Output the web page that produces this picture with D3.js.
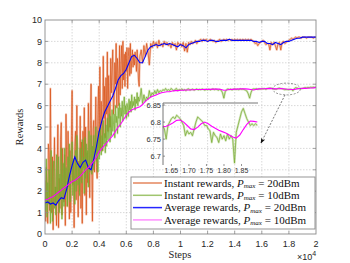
<!DOCTYPE html>
<html>
<head>
<meta charset="utf-8">
<script src="https://cdn.jsdelivr.net/npm/d3@7"></script>
<style>
  html, body { margin: 0; padding: 0; background: #fff; }
  svg { display: block; }
</style>
</head>
<body>
<svg id="chart" width="350" height="263"></svg>
<script>
// instant rewards: every 50 steps up to step 6950, then every 100 steps
const earlyStep = 50;
const lateStart = 7000;
const lateStep = 100;
// average rewards: every 200 steps
const averageStep = 200;

const instant20Early = [
  2.5, 0.6, 3.1, 1.8, 0.5, 4.2, 3.8, 1.1, 6.8, 2.4,
  1.0, 3.6, 0.2, 2.7, 4.5, 1.5, 2.2, 0.4, 3.0, 5.1,
  0.3, 2.6, 1.2, 4.4, 5.2, 0.9, 4.0, 2.1, 1.5, 3.7,
  0.4, 5.6, 3.2, 1.3, 4.8, 2.8, 0.7, 3.9, 1.0, 4.6,
  6.7, 2.3, 3.5, 0.3, 4.1, 4.8, 1.6, 6.0, 2.5, 0.8,
  3.4, 2.0, 5.5, 1.2, 4.3, 0.5, 4.8, 3.1, 5.9, 1.8,
  5.0, 0.9, 3.8, 2.4, 6.1, 4.2, 1.7, 5.3, 7.0, 3.3,
  0.6, 4.9, 5.3, 2.9, 4.4, 6.4, 3.1, 2.6, 5.6, 6.9,
  3.8, 7.8, 4.0, 6.2, 5.1, 3.9, 8.3, 5.4, 6.9, 4.5,
  7.3, 5.6, 8.5, 4.8, 7.4, 6.0, 5.0, 8.2, 6.6, 7.7,
  8.6, 5.6, 6.2, 8.0, 7.0, 8.9, 5.9, 8.2, 7.5, 6.0,
  8.8, 6.5, 7.9, 8.8, 6.8, 9.0, 7.2, 8.4, 6.9, 8.5,
  7.6, 8.7, 6.8, 8.3, 8.7, 7.4, 8.9, 7.5, 8.1, 8.6,
  7.8, 8.4, 7.9, 8.5, 8.2, 7.6, 8.6, 8.0, 7.2, 6.9
];

const instant20Late = [
  8.3, 8.6, 8.0, 8.8, 8.3, 8.9, 8.5, 7.9, 8.9, 8.7, 9.0,
  8.8, 8.95, 8.7, 9.05, 8.8, 8.9, 8.75, 9.0, 8.85, 8.95,
  8.8, 8.9, 8.7, 8.95, 8.8, 8.9, 8.6, 8.95, 8.85, 8.9,
  8.75, 8.95, 8.55, 8.9, 8.5, 8.95, 8.85, 9.0, 8.9, 8.95,
  9.05, 8.9, 9.0, 9.05, 9.1, 9.0, 9.1, 9.05, 9.1, 9.0,
  9.05, 9.1, 9.05, 9.0, 9.05, 8.95, 9.0, 9.05, 9.1, 9.0,
  9.05, 9.1, 9.05, 9.1, 9.05, 9.1, 9.05, 9.1, 9.05, 9.1,
  9.05, 9.1, 9.05, 9.1, 9.05, 9.1, 9.05, 9.1, 9.05, 9.1,
  9.05, 9.1, 9.05, 9.0, 8.9, 8.95, 8.8, 8.9, 8.95, 9.0,
  9.05, 8.95, 8.85, 8.9, 8.9, 8.6, 8.95, 8.85, 8.95, 8.8,
  8.6, 8.9, 8.95, 8.6, 8.95, 9.0, 8.9, 8.95, 9.0, 9.05,
  9.1, 9.15, 9.1, 9.15, 9.2, 9.15, 9.2, 9.2, 9.15, 9.2,
  9.2, 9.2, 9.15, 9.2, 9.2, 9.2, 9.2, 9.15, 9.2, 9.2
];

const instant10Early = [
  2.0, 1.1, 3.5, 0.8, 2.4, 1.4, 3.0, 2.6, 0.5, 3.9,
  1.7, 0.6, 2.9, 3.4, 1.2, 2.2, 0.9, 3.7, 1.5, 2.8,
  3.6, 1.0, 2.8, 1.6, 4.0, 0.7, 2.4, 3.3, 1.3, 4.0,
  1.9, 3.1, 2.5, 1.3, 3.6, 2.2, 4.2, 1.5, 2.7, 3.4,
  4.3, 1.8, 3.5, 2.4, 1.4, 3.9, 2.0, 4.6, 4.1, 2.3,
  3.3, 1.8, 4.0, 2.6, 2.4, 4.4, 3.0, 3.6, 1.9, 4.5,
  2.6, 4.2, 3.2, 3.9, 2.2, 4.8, 2.9, 3.5, 4.6, 2.8,
  4.1, 3.0, 4.6, 3.3, 3.8, 5.0, 3.4, 4.3, 2.9, 4.8,
  3.5, 4.5, 5.0, 3.7, 4.6, 3.9, 5.3, 4.2, 4.7, 3.8,
  5.1, 4.1, 5.4, 4.4, 4.9, 5.6, 4.3, 5.5, 4.6, 5.8,
  4.8, 5.1, 5.6, 4.5, 6.0, 5.2, 5.5, 4.7, 5.9, 5.4,
  6.1, 5.0, 5.9, 5.5, 6.2, 5.3, 5.8, 6.4, 5.6, 6.0,
  5.4, 6.1, 5.9, 5.5, 6.3, 5.8, 6.2, 5.7, 6.5, 5.9,
  6.2, 6.0, 6.4, 5.8, 6.3, 6.1, 6.6, 6.0, 6.4, 6.2
];

const instant10Late = [
  6.3, 6.8, 6.1, 6.5, 6.2, 6.4, 6.3, 6.7, 6.4, 6.6, 6.5,
  6.7, 6.55, 6.75, 6.6, 6.7, 6.65, 6.75, 6.7, 6.8, 6.7,
  6.75, 6.7, 6.8, 6.75, 6.7, 6.75, 6.8, 6.7, 6.75, 6.72,
  6.78, 6.72, 6.75, 6.7, 6.76, 6.78, 6.72, 6.75, 6.77, 6.72,
  6.75, 6.78, 6.73, 6.76, 6.74, 6.78, 6.75, 6.72, 6.76, 6.74,
  6.77, 6.73, 6.76, 6.78, 6.74, 6.77, 6.75, 6.72, 6.76, 6.72,
  6.6, 6.35, 6.65, 6.74, 6.78, 6.75, 6.77, 6.73, 6.76, 6.78,
  6.75, 6.77, 6.74, 6.78, 6.76, 6.77, 6.75, 6.72, 6.68, 6.55,
  6.35, 6.6, 6.76, 6.78, 6.77, 6.79, 6.76, 6.78, 6.77, 6.79,
  6.78, 6.79, 6.76, 6.8, 6.81, 6.815, 6.81, 6.8, 6.77, 6.765,
  6.77, 6.805, 6.815, 6.8, 6.79, 6.765, 6.74, 6.76, 6.75, 6.745,
  6.76, 6.755, 6.69, 6.79, 6.84, 6.82, 6.8, 6.795, 6.79, 6.8,
  6.82, 6.84, 6.83, 6.85, 6.84, 6.86, 6.85, 6.86, 6.85, 6.86
];

const average20 = [
  1.45, 1.5, 1.4, 1.45, 1.35, 1.55, 1.7, 1.65, 2.1, 2.7,
  3.2, 3.6, 3.3, 3.1, 3.35, 3.45, 3.1, 3.0, 3.5, 4.1,
  4.8, 5.3, 5.7, 5.95, 6.2, 6.45, 6.8, 7.2, 7.4, 7.5,
  7.7, 8.0, 8.3, 8.35, 8.2, 8.0, 8.0, 8.3, 8.6, 8.75,
  8.8, 8.85, 8.8, 8.85, 8.9, 8.85, 8.9, 8.85, 8.8, 8.75,
  8.85, 8.8, 8.7, 8.85, 8.9, 8.95, 9.0, 9.0, 9.05, 9.05,
  9.0, 9.05, 9.05, 9.0, 9.0, 9.05, 9.05, 9.05, 9.1, 9.05,
  9.05, 9.05, 9.05, 9.05, 9.05, 9.05, 9.05, 9.0, 9.0, 8.95,
  9.0, 9.0, 8.9, 8.9, 8.85, 8.95, 8.9, 8.85, 8.95, 9.0,
  9.0, 9.05, 9.1, 9.15, 9.15, 9.2, 9.2, 9.2, 9.2, 9.2,
  9.2
];

const average10 = [
  1.6, 1.62, 1.7, 1.75, 1.85, 1.95, 2.05, 2.15, 2.25, 2.35,
  2.45, 2.5, 2.6, 2.7, 2.85, 3.0, 3.1, 3.25, 3.4, 3.6,
  3.85, 4.0, 4.15, 4.3, 4.45, 4.6, 4.8, 5.0, 5.15, 5.35,
  5.55, 5.7, 5.8, 5.85, 5.9, 5.95, 6.05, 6.2, 6.3, 6.4,
  6.45, 6.5, 6.55, 6.6, 6.62, 6.65, 6.65, 6.68, 6.7, 6.7,
  6.72, 6.72, 6.73, 6.73, 6.74, 6.74, 6.75, 6.75, 6.75, 6.76,
  6.76, 6.76, 6.77, 6.77, 6.77, 6.75, 6.72, 6.73, 6.75, 6.76,
  6.77, 6.77, 6.78, 6.78, 6.78, 6.77, 6.75, 6.73, 6.76, 6.78,
  6.79, 6.785, 6.795, 6.805, 6.795, 6.78, 6.79, 6.8, 6.79, 6.775,
  6.765, 6.755, 6.75, 6.78, 6.8, 6.81, 6.805, 6.81, 6.82, 6.83,
  6.85
];

// zoomed window for the inset (steps 16250 .. 18950)
const insetStart = 16250;
const insetInstantStep = 50;
const insetAverageStep = 100;

const insetInstant10 = [
  6.79, 6.78, 6.75, 6.79, 6.8, 6.81, 6.815, 6.81, 6.82, 6.815,
  6.81, 6.8, 6.79, 6.76, 6.775, 6.765, 6.77, 6.76, 6.78, 6.8,
  6.815, 6.81, 6.805, 6.8, 6.79, 6.79, 6.78, 6.775, 6.74, 6.77,
  6.76, 6.755, 6.74, 6.765, 6.75, 6.76, 6.745, 6.765, 6.75, 6.76,
  6.75, 6.68, 6.77, 6.79, 6.81, 6.83, 6.84, 6.825, 6.81, 6.8,
  6.79, 6.795, 6.79, 6.795, 6.79
];

const insetAverage10 = [
  6.786, 6.788, 6.792, 6.798, 6.805, 6.806, 6.8, 6.79, 6.78, 6.778,
  6.785, 6.795, 6.8, 6.795, 6.788, 6.782, 6.776, 6.772, 6.768, 6.762,
  6.756, 6.753, 6.762, 6.778, 6.793, 6.803, 6.802, 6.8
];

const xTicks = [0, 0.2, 0.4, 0.6, 0.8, 1, 1.2, 1.4, 1.6, 1.8, 2];
const yTicks = [0, 1, 2, 3, 4, 5, 6, 7, 8, 9, 10];
const insetXTicks = [1.65, 1.70, 1.75, 1.80, 1.85];
const insetYTicks = [6.7, 6.75, 6.8, 6.85];

const legendLabels = ['Instant rewards, ', 'Instant rewards, ', 'Average rewards, ', 'Average rewards, '];
const legendPower = ['20dBm', '10dBm', '20dBm', '10dBm'];

const colors = {
  inst20: '#D95319',
  inst10: '#77AC30',
  avg20: '#0000FF',
  avg10: '#FF00FF'
};

const svg = d3.select('#chart');
const plotLeft = 45, plotRight = 316, plotTop = 20, plotBottom = 234;

const x = d3.scaleLinear().domain([0, 20000]).range([plotLeft, plotRight]);
const y = d3.scaleLinear().domain([0, 10]).range([plotBottom, plotTop]);

const sansFont = '"Liberation Sans", Arial, sans-serif';
const serifFont = '"Liberation Serif", "Times New Roman", serif';

// [step, value] pairs for a regularly sampled series
function toPoints(values, step, start) {
  start = start || 0;
  return values.map((v, i) => [start + i * step, v]);
}

const instant20Points = toPoints(instant20Early, earlyStep).concat(toPoints(instant20Late, lateStep, lateStart));
const instant10Points = toPoints(instant10Early, earlyStep).concat(toPoints(instant10Late, lateStep, lateStart));

const defs = svg.append('defs');
defs.append('clipPath').attr('id', 'plotClip')
  .append('rect')
  .attr('x', plotLeft).attr('y', plotTop)
  .attr('width', plotRight - plotLeft).attr('height', plotBottom - plotTop);

// grid
const grid = svg.append('g').attr('class', 'grid')
  .attr('stroke', '#c8c8c8').attr('stroke-width', 0.7).attr('stroke-dasharray', '1.5,1.5');
grid.selectAll('line.v').data(xTicks.slice(1, -1)).join('line').attr('class', 'v')
  .attr('x1', d => x(d * 1e4)).attr('x2', d => x(d * 1e4))
  .attr('y1', plotTop).attr('y2', plotBottom);
grid.selectAll('line.h').data(yTicks.slice(1, -1)).join('line').attr('class', 'h')
  .attr('x1', plotLeft).attr('x2', plotRight)
  .attr('y1', d => y(d)).attr('y2', d => y(d));

function pointLine(xs, ys) {
  return d3.line().x(d => xs(d[0])).y(d => ys(d[1]));
}

const plot = svg.append('g').attr('clip-path', 'url(#plotClip)').attr('fill', 'none');

function drawInstant(g, points, color, lineGen) {
  g.append('path').datum(points).attr('d', lineGen)
    .attr('stroke', color).attr('stroke-width', 2.2).attr('stroke-opacity', 0.3)
    .attr('stroke-linejoin', 'round');
  g.append('path').datum(points).attr('d', lineGen)
    .attr('stroke', color).attr('stroke-width', 0.8).attr('stroke-opacity', 0.9)
    .attr('stroke-linejoin', 'round');
}

const mainLine = pointLine(x, y);
drawInstant(plot, instant20Points, colors.inst20, mainLine);
drawInstant(plot, instant10Points, colors.inst10, mainLine);

plot.append('path').datum(toPoints(average20, averageStep)).attr('d', mainLine)
  .attr('stroke', colors.avg20).attr('stroke-width', 1.1);
plot.append('path').datum(toPoints(average10, averageStep)).attr('d', mainLine)
  .attr('stroke', colors.avg10).attr('stroke-width', 1.1);

// axes box with inward ticks
const axes = svg.append('g').attr('class', 'axes');
axes.append('rect')
  .attr('x', plotLeft).attr('y', plotTop)
  .attr('width', plotRight - plotLeft).attr('height', plotBottom - plotTop)
  .attr('fill', 'none').attr('stroke', '#8a8a8a').attr('stroke-width', 0.9);

const tickLen = 3;
axes.selectAll('line.xt').data(xTicks.slice(1, -1)).join('line').attr('class', 'xt')
  .attr('x1', d => x(d * 1e4)).attr('x2', d => x(d * 1e4))
  .attr('y1', plotBottom).attr('y2', plotBottom - tickLen)
  .attr('stroke', '#8a8a8a').attr('stroke-width', 0.8);
axes.selectAll('line.xt2').data(xTicks.slice(1, -1)).join('line').attr('class', 'xt2')
  .attr('x1', d => x(d * 1e4)).attr('x2', d => x(d * 1e4))
  .attr('y1', plotTop).attr('y2', plotTop + tickLen)
  .attr('stroke', '#8a8a8a').attr('stroke-width', 0.8);
axes.selectAll('line.yt').data(yTicks.slice(1, -1)).join('line').attr('class', 'yt')
  .attr('x1', plotLeft).attr('x2', plotLeft + tickLen)
  .attr('y1', d => y(d)).attr('y2', d => y(d))
  .attr('stroke', '#8a8a8a').attr('stroke-width', 0.8);
axes.selectAll('line.yt2').data(yTicks.slice(1, -1)).join('line').attr('class', 'yt2')
  .attr('x1', plotRight).attr('x2', plotRight - tickLen)
  .attr('y1', d => y(d)).attr('y2', d => y(d))
  .attr('stroke', '#8a8a8a').attr('stroke-width', 0.8);

axes.selectAll('text.xl').data(xTicks).join('text').attr('class', 'xl')
  .attr('x', d => x(d * 1e4)).attr('y', 247)
  .attr('text-anchor', 'middle')
  .style('font-family', sansFont).style('font-size', '9px').attr('fill', '#262626')
  .text(d => d3.format('~g')(d));

axes.selectAll('text.yl').data(yTicks).join('text').attr('class', 'yl')
  .attr('x', 42).attr('y', d => y(d)).attr('dy', '0.35em')
  .attr('text-anchor', 'end')
  .style('font-family', sansFont).style('font-size', '9px').attr('fill', '#262626')
  .text(d => d);

svg.append('text')
  .attr('x', 180).attr('y', 258)
  .attr('text-anchor', 'middle')
  .style('font-family', serifFont).style('font-size', '10.5px').attr('fill', '#262626')
  .text('Steps');

svg.append('text')
  .attr('transform', 'translate(23,127) rotate(-90)')
  .attr('text-anchor', 'middle')
  .style('font-family', serifFont).style('font-size', '10.5px').attr('fill', '#262626')
  .text('Rewards');

const expo = svg.append('text')
  .attr('x', 297).attr('y', 260)
  .style('font-family', sansFont).style('font-size', '9px').attr('fill', '#262626');
expo.append('tspan').text('\u00d710');
expo.append('tspan').attr('dy', -4).style('font-size', '7px').text('4');

// dashed ellipse and arrow pointing at the inset
const annot = svg.append('g').attr('fill', 'none');
const ex0 = x(16800), ex1 = x(18850), ey0 = y(7.05), ey1 = y(6.5);
annot.append('ellipse')
  .attr('cx', (ex0 + ex1) / 2).attr('cy', (ey0 + ey1) / 2)
  .attr('rx', (ex1 - ex0) / 2).attr('ry', (ey1 - ey0) / 2)
  .attr('stroke', '#777').attr('stroke-width', 0.8).attr('stroke-dasharray', '2,1.5');

defs.append('marker')
  .attr('id', 'arrowHead').attr('viewBox', '0 0 10 10')
  .attr('refX', 9).attr('refY', 5)
  .attr('markerWidth', 7).attr('markerHeight', 7)
  .attr('orient', 'auto-start-reverse')
  .append('path').attr('d', 'M0,1 L10,5 L0,9 L3,5 Z').attr('fill', '#111');

annot.append('line')
  .attr('x1', 285).attr('y1', ey1)
  .attr('x2', 261).attr('y2', 143)
  .attr('stroke', '#555').attr('stroke-width', 0.8).attr('stroke-dasharray', '2,1.5')
  .attr('marker-end', 'url(#arrowHead)');

// inset
const insetLeft = 163, insetRight = 258, insetTop = 103, insetBottom = 165;
const ix = d3.scaleLinear().domain([16260, 18970]).range([insetLeft, insetRight]);
const iy = d3.scaleLinear().domain([6.674, 6.856]).range([insetBottom, insetTop]);

defs.append('clipPath').attr('id', 'insetClip')
  .append('rect')
  .attr('x', insetLeft).attr('y', insetTop)
  .attr('width', insetRight - insetLeft).attr('height', insetBottom - insetTop);

const inset = svg.append('g').attr('class', 'inset');
const insetPlot = inset.append('g').attr('clip-path', 'url(#insetClip)').attr('fill', 'none');
const insetLine = pointLine(ix, iy);
drawInstant(insetPlot, toPoints(insetInstant10, insetInstantStep, insetStart), colors.inst10, insetLine);
insetPlot.append('path').datum(toPoints(insetAverage10, insetAverageStep, insetStart))
  .attr('d', insetLine)
  .attr('stroke', colors.avg10).attr('stroke-width', 1.1);

inset.append('path')
  .attr('d', `M${insetLeft},${insetBottom}V${insetTop}H${insetRight}`)
  .attr('fill', 'none').attr('stroke', '#666').attr('stroke-width', 0.9);

inset.selectAll('line.it').data(insetYTicks).join('line').attr('class', 'it')
  .attr('x1', insetLeft).attr('x2', insetLeft + 2)
  .attr('y1', d => iy(d)).attr('y2', d => iy(d))
  .attr('stroke', '#666').attr('stroke-width', 0.7);
inset.selectAll('line.ixt').data(insetXTicks).join('line').attr('class', 'ixt')
  .attr('x1', d => ix(d * 1e4)).attr('x2', d => ix(d * 1e4))
  .attr('y1', insetBottom + 1).attr('y2', insetBottom - 1)
  .attr('stroke', '#666').attr('stroke-width', 0.7);

inset.selectAll('text.iyl').data(insetYTicks).join('text').attr('class', 'iyl')
  .attr('x', insetLeft - 2).attr('y', d => iy(d)).attr('dy', '0.35em')
  .attr('text-anchor', 'end')
  .style('font-family', sansFont).style('font-size', '7.5px').attr('fill', '#333')
  .text(d => d3.format('~g')(d));
inset.selectAll('text.ixl').data(insetXTicks).join('text').attr('class', 'ixl')
  .attr('x', d => ix(d * 1e4)).attr('y', insetBottom + 8)
  .attr('text-anchor', 'middle')
  .style('font-family', sansFont).style('font-size', '7px').attr('fill', '#333')
  .text(d => d.toFixed(2));

// legend
const legendItems = [
  { color: colors.inst20, opacity: 0.7 },
  { color: colors.inst10, opacity: 0.7 },
  { color: colors.avg20, opacity: 0.85 },
  { color: colors.avg10, opacity: 0.45 }
];
const legend = svg.append('g').attr('class', 'legend');
legend.append('rect')
  .attr('x', 131).attr('y', 177).attr('width', 184).attr('height', 52)
  .attr('fill', '#fff').attr('stroke', '#8a8a8a').attr('stroke-width', 0.9);

const rows = legend.selectAll('g.row').data(legendItems).join('g').attr('class', 'row')
  .attr('transform', (d, i) => `translate(0,${183 + i * 12.3})`);
rows.append('line')
  .attr('x1', 133).attr('x2', 162).attr('y1', 0).attr('y2', 0)
  .attr('stroke', d => d.color).attr('stroke-opacity', d => d.opacity).attr('stroke-width', 1.5);
const labels = rows.append('text')
  .attr('x', 164).attr('y', 0).attr('dy', '0.33em')
  .style('font-family', serifFont).style('font-size', '11px').attr('fill', '#111');
labels.append('tspan').text((d, i) => legendLabels[i]);
labels.append('tspan').style('font-style', 'italic').text('P');
labels.append('tspan').attr('dy', 1.5).style('font-size', '7px').style('font-style', 'italic').text('max');
labels.append('tspan').attr('dy', -1.5).text(' = ');
labels.append('tspan').text((d, i) => legendPower[i]);
</script>
</body>
</html>
